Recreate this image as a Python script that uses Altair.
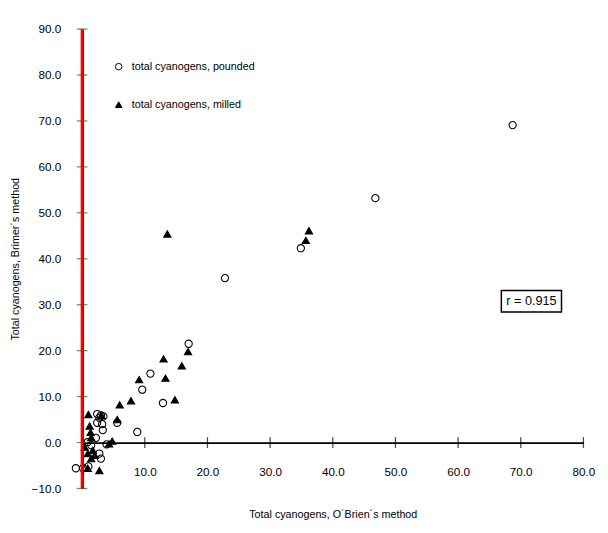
import altair as alt
import pandas as pd

series = ["total cyanogens, pounded", "total cyanogens, milled"]

pounded_x = [68.7, 46.8, 34.9, 22.8, 17.0, 10.9, 9.6, 12.9, 8.8, 2.4, 3.0, 2.75, 3.4,
             5.6, 2.4, 3.2, 3.3, 2.2, 0.9, 3.9, 1.45, 2.75, 3.0, -1.0, 0.15, 1.0]
pounded_y = [69.1, 53.2, 42.3, 35.8, 21.5, 15.0, 11.5, 8.6, 2.3, 6.2, 5.9, 5.4, 5.7,
             4.3, 4.3, 4.0, 2.7, 1.0, 0.1, -0.4, -0.6, -2.4, -3.5, -5.6, -5.6, -5.2]

milled_x = [13.6, 36.2, 35.7, 16.9, 13.0, 15.9, 13.3, 9.1, 7.8, 14.8, 6.0, 1.0, 3.1,
            5.6, 1.2, 1.35, 1.45, 4.8, 4.3, 0.4, 1.7, 0.9, 2.0, 1.45, 0.9, 2.75]
milled_y = [45.4, 46.1, 44.0, 19.8, 18.2, 16.7, 14.0, 13.7, 9.1, 9.3, 8.2, 6.1, 5.9,
            5.0, 3.6, 2.2, 1.1, 0.3, -0.3, -1.0, -1.7, -2.4, -2.8, -3.5, -5.6, -6.1]

x_ticks = [10, 20, 30, 40, 50, 60, 70, 80]
y_ticks = [-10, 0, 10, 20, 30, 40, 50, 60, 70, 80, 90]

r_label = "r = 0.915"

df = pd.DataFrame({
    "x": pounded_x + milled_x,
    "y": pounded_y + milled_y,
    "series": [series[0]] * len(pounded_x) + [series[1]] * len(milled_x),
})

W, H = 514, 471
FONT = "Liberation Sans"

xscale = alt.Scale(domain=[0, 80], nice=False, zero=False, padding=0)
yscale = alt.Scale(domain=[-10, 90], nice=False, zero=False, padding=0)

legend = alt.Legend(orient="none", legendX=32, legendY=33, title=None, padding=0,
                    labelFontSize=11, labelFont=FONT, rowPadding=27, symbolSize=45,
                    symbolStrokeColor="black", symbolStrokeWidth=1, labelOffset=8)

points = alt.Chart(df).mark_point(filled=True, strokeWidth=1.1, opacity=1, size=55).encode(
    x=alt.X("x:Q", scale=xscale,
            axis=alt.Axis(values=x_ticks, offset=-47, ticks=False, labelPadding=25,
                          format=".1f", labelFlush=False,
                          title="Total cyanogens, O´Brien´s method", titlePadding=32,
                          grid=False)),
    y=alt.Y("y:Q", scale=yscale,
            axis=alt.Axis(values=y_ticks, format=".1f", ticks=False, labelPadding=22,
                          labelFlush=False, domainColor="blue", domainWidth=3,
                          title="Total cyanogens, Brimer´s method", titlePadding=11,
                          grid=False)),
    shape=alt.Shape("series:N", scale=alt.Scale(domain=series, range=["circle", "triangle-up"]),
                    legend=legend),
    fill=alt.Fill("series:N", scale=alt.Scale(domain=series, range=["transparent", "black"]),
                  legend=legend),
    stroke=alt.Stroke("series:N", scale=alt.Scale(domain=series, range=["black", "black"]),
                      legend=legend),
)

xt = pd.DataFrame({"v": x_ticks})
yt = pd.DataFrame({"v": y_ticks})
yt["origin"] = 0

xtick_marks = alt.Chart(xt).mark_tick(orient="vertical", size=11, thickness=1.3, color="black").encode(
    x=alt.X("v:Q", scale=xscale), y=alt.datum(0),
)
ytick_marks = alt.Chart(yt).mark_tick(orient="horizontal", size=11, thickness=1.3, color="green").encode(
    y=alt.Y("v:Q", scale=yscale), x=alt.X("origin:Q", scale=xscale),
)
yaxis_line = alt.Chart(yt).mark_rule(color="red", strokeWidth=3).encode(
    x=alt.X("min(origin):Q", scale=xscale), y=alt.Y("min(v):Q", scale=yscale), y2="max(v):Q",
)

ann = pd.DataFrame({"x": [71.7], "y": [30.7], "x1": [66.9], "x2": [76.5], "y1": [33.1], "y2": [28.4], "t": [r_label]})

box = alt.Chart(ann).mark_rect(fill="white", stroke="black", strokeWidth=1.5).encode(
    x=alt.X("x1:Q", scale=xscale), x2="x2:Q",
    y=alt.Y("y1:Q", scale=yscale), y2="y2:Q",
)
txt = alt.Chart(ann).mark_text(font=FONT, fontSize=13, color="black").encode(
    x=alt.X("x:Q", scale=xscale), y=alt.Y("y:Q", scale=yscale), text="t:N",
)

chart = alt.layer(points, xtick_marks, ytick_marks, yaxis_line, box, txt).properties(
    width=W, height=H, background="white",
    padding={"top": 9, "left": 1, "right": 5, "bottom": 5}
).configure_view(stroke=None).configure_axis(
    labelFont=FONT, titleFont=FONT, labelFontSize=12, titleFontSize=11,
    titleFontWeight="normal", labelColor="black", titleColor="black",
    domainColor="black", domainWidth=1.8,
)

chart.save("out.html", embed_options={"renderer": "svg", "actions": False})
